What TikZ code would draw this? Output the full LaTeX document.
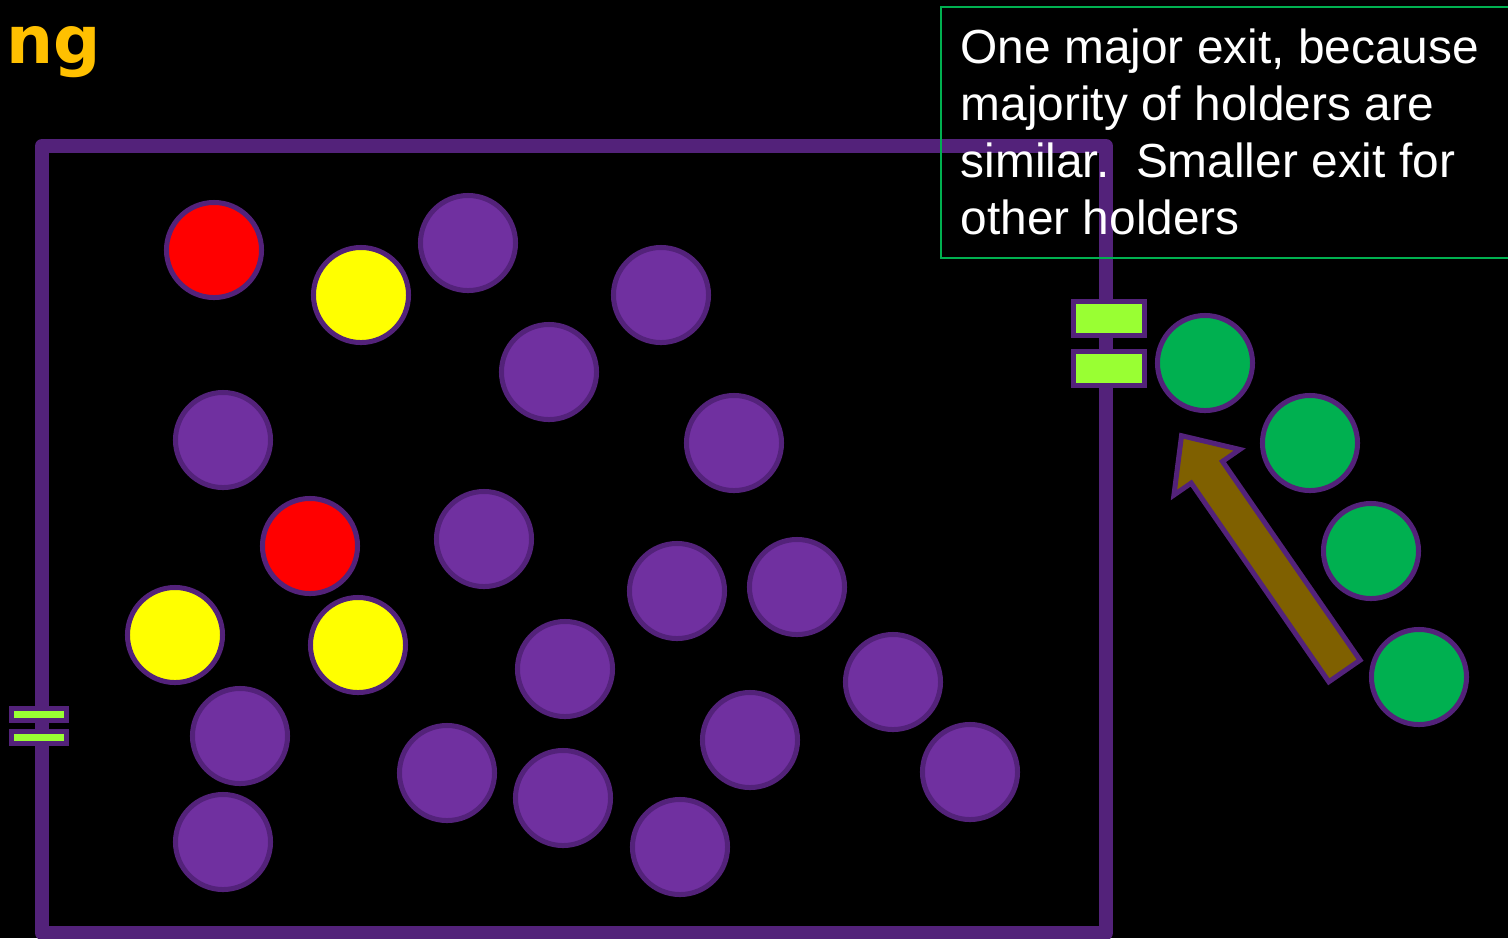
\documentclass[tikz,border=0pt]{standalone}
\usepackage{fontspec}
\setmainfont{Liberation Sans}
\newfontfamily\headfont{DejaVu Sans}
\usetikzlibrary{positioning,shapes.arrows}
\definecolor{wallP}{RGB}{83,34,122}
\definecolor{holdP}{RGB}{112,48,160}
\definecolor{holdG}{RGB}{0,176,80}
\definecolor{holdR}{RGB}{255,0,0}
\definecolor{holdY}{RGB}{255,255,0}
\definecolor{gateL}{RGB}{153,255,51}
\definecolor{arrO}{RGB}{127,96,0}
\definecolor{headO}{RGB}{255,192,0}

\begin{document}
\begin{tikzpicture}[x=0.01cm,y=-0.01cm,
   h/.style={circle,draw=wallP,line width=0.05cm,minimum size=0.95cm,inner sep=0pt},
   ph/.style={h,fill=holdP},
   rh/.style={h,fill=holdR},
   yh/.style={h,fill=holdY},
   gh/.style={h,fill=holdG},
   gate/.style={rectangle,draw=wallP,fill=gateL,line width=0.05cm,inner sep=0pt},
   wall/.style={draw=wallP,line width=0.14cm,line join=round},
   arr/.style={single arrow,draw=wallP,fill=arrO,line width=0.05cm,inner sep=0.165cm,
     minimum height=2.86cm,single arrow head extend=0.21cm,single arrow tip angle=84},
   note/.style={rectangle,draw=holdG,line width=0.015cm,minimum width=6cm,minimum height=2.51cm,inner sep=0pt}]
\clip (0,0) rectangle (1508,938);
\fill[black] (0,0) rectangle (1508,938);
\node[headO,font=\headfont\bfseries\fontsize{18.8}{22}\selectfont,anchor=base west,inner sep=0pt] (ttl) at (6,63) {ng};
%% ---- the room and its exits ----
\draw[wall] (42,146) rectangle (1106,933);
\node[gate,minimum width=0.71cm,minimum height=0.34cm] (gx1) at (1109,318.5) {};
\node[gate,minimum width=0.71cm,minimum height=0.34cm] (gx2) at (1109,368.5) {};   % major exit
\node[gate,minimum width=0.55cm,minimum height=0.12cm] (gy1) at (39,714.5) {};
\node[gate,minimum width=0.55cm,minimum height=0.12cm] (gy2) at (39,737.5) {};     % smaller exit
%% ---- holders inside ----
\node[rh] (r1) at (214,250) {};
\node[yh] (y1) at (361,295) {};
\node[ph] (p1) at (468,243) {};
\node[ph] (p2) at (661,295) {};
\node[ph] (p3) at (549,372) {};
\node[ph] (p4) at (223,440) {};
\node[ph] (p5) at (734,443) {};
\node[rh] (r2) at (310,546) {};
\node[ph] (p6) at (484,539) {};
\node[ph] (p7) at (677,591) {};
\node[ph] (p8) at (797,587) {};
\node[yh] (y2) at (175,635) {};
\node[yh] (y3) at (358,645) {};
\node[ph] (p9) at (565,669) {};
\node[ph] (p10) at (893,682) {};
\node[ph] (p11) at (240,736) {};
\node[ph] (p12) at (750,740) {};
\node[ph] (p13) at (447,773) {};
\node[ph] (p14) at (563,798) {};
\node[ph] (p15) at (970,772) {};
\node[ph] (p16) at (223,842) {};
\node[ph] (p17) at (680,847) {};
%% ---- holders outside ----
\node[gh] (g1) at (1205,363) {};
\node[gh] (g2) at (1310,443) {};
\node[gh] (g3) at (1371,551) {};
\node[gh] (g4) at (1419,677) {};
\node[arr,rotate=124.7] (mv) at (1269,562) {};
%% ---- note ----
\node[note,anchor=north west] (note) at (940,6) {};
\node[white,anchor=base west,inner sep=0pt,align=left,font=\fontsize{13.6}{16.2}\selectfont] (notetxt) at (960,234)
  {One major exit, because\\majority of holders are\\similar.\ \ Smaller exit for\\other holders};
\end{tikzpicture}
\end{document}
